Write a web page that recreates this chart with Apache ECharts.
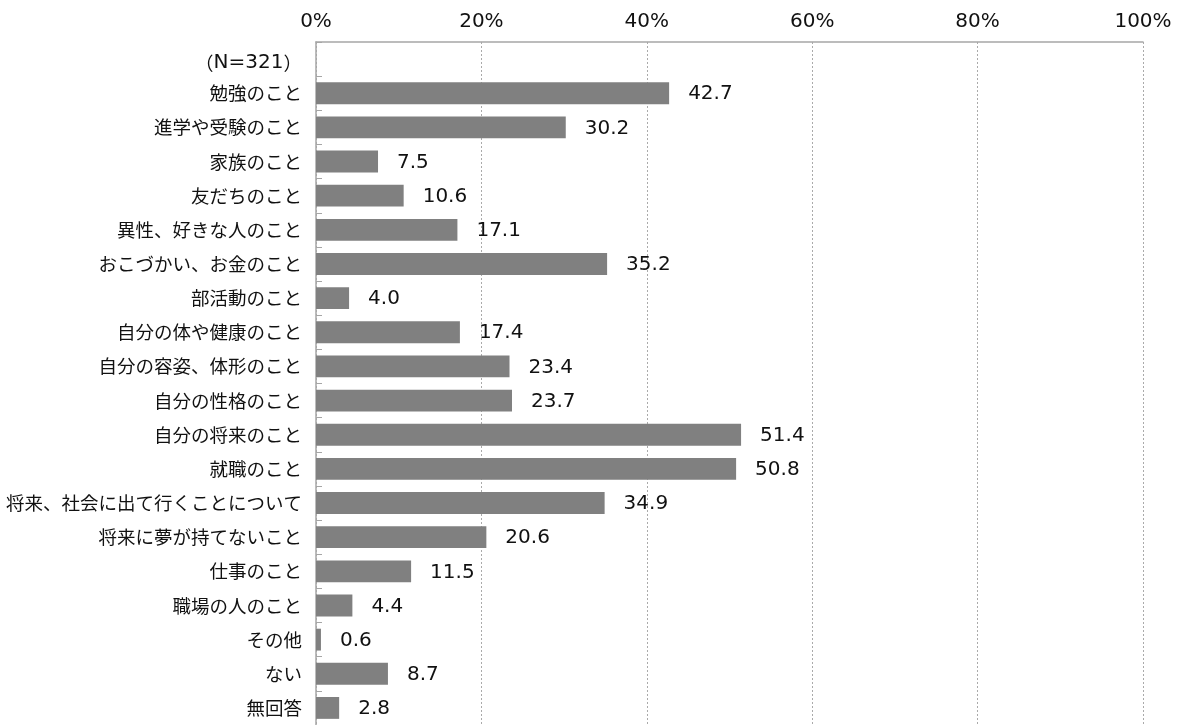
<!DOCTYPE html>
<html><head><meta charset="utf-8">
<script src="https://cdn.jsdelivr.net/npm/echarts@6/dist/echarts.min.js"></script>
<style>html,body{margin:0;padding:0;background:#fff}#c{width:1182px;height:725px}</style>
</head><body><div id="c"></div>
<script>
const categories = ['（N=321）','勉強のこと','進学や受験のこと','家族のこと','友だちのこと','異性、好きな人のこと','おこづかい、お金のこと','部活動のこと','自分の体や健康のこと','自分の容姿、体形のこと','自分の性格のこと','自分の将来のこと','就職のこと','将来、社会に出て行くことについて','将来に夢が持てないこと','仕事のこと','職場の人のこと','その他','ない','無回答'];
const values = [null,42.7,30.2,7.5,10.6,17.1,35.2,4.0,17.4,23.4,23.7,51.4,50.8,34.9,20.6,11.5,4.4,0.6,8.7,2.8];
const xTicks = [0,20,40,60,80,100];
const jpFont = '"Noto Sans CJK JP","Noto Sans",sans-serif';
const numFont = '"DejaVu Sans","Noto Sans CJK JP",sans-serif';
const chart = echarts.init(document.getElementById('c'));
chart.setOption({
  animation:false,
  grid:{left:316,right:39,top:42,bottom:-11,containLabel:false},
  xAxis:{type:'value',position:'top',min:xTicks[0],max:xTicks[xTicks.length-1],interval:20,
    axisLine:{show:true,lineStyle:{color:'#a6a6a6',width:1.5}},
    axisTick:{show:false},
    axisLabel:{formatter:v=>v+'%',fontSize:20,color:'#111',fontFamily:numFont,margin:10},
    splitLine:{show:true,lineStyle:{type:[2,2],color:'#aaaaaa',width:1}}},
  yAxis:{type:'category',data:categories,inverse:true,
    axisLine:{show:true,lineStyle:{color:'#a6a6a6',width:1.5}},
    axisTick:{show:true,inside:true,length:6,lineStyle:{color:'#a6a6a6'}},
    axisLabel:{fontSize:18.5,color:'#111',fontFamily:jpFont,margin:14,
      formatter:(v)=>{
        if(v.charAt(0)==='（'){return '{p|（}{n|'+v.slice(1,-1)+'}{p|）}';}
        return v;
      },
      rich:{p:{fontSize:18.5,fontFamily:jpFont,color:'#111',lineHeight:26,padding:[7,0,0,0]},
            n:{fontSize:20,fontFamily:numFont,color:'#111',lineHeight:26,padding:[7,0,0,0]}}}},
  series:[{type:'bar',data:values,barCategoryGap:'36%',
    itemStyle:{color:'#808080'},
    label:{show:true,position:'right',distance:19,fontSize:20,color:'#111',fontFamily:numFont,offset:[0,1],
      formatter:p=>p.value==null?'':p.value.toFixed(1)}}]
});
</script></body></html>
